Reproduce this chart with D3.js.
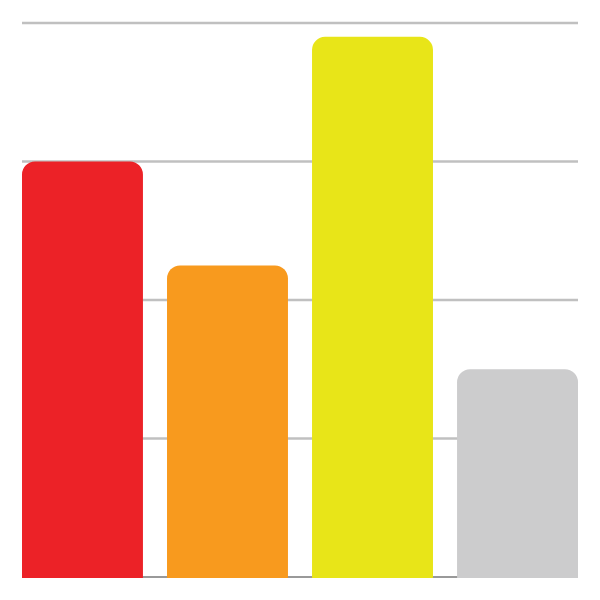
<!DOCTYPE html>
<html>
<head>
<meta charset="utf-8">
<script src="https://cdn.jsdelivr.net/npm/d3@7"></script>
<style>
  body { margin: 0; background: #fff; }
</style>
</head>
<body>
<div id="chart-area"></div>
<script>
// data
const categories = ["A", "B", "C", "D"];
const values = [3.0, 2.25, 3.9, 1.5];
const barColors = ["#ec2227", "#f89a1e", "#e8e518", "#cccccd"];
const gridTicks = [1, 2, 3, 4];

const width = 600, height = 600;
const margin = { left: 22, right: 22, top: 23, bottom: 23 };
const radius = 13;

const svg = d3.select("#chart-area")
  .append("svg")
  .attr("width", width)
  .attr("height", height);

const x = d3.scaleBand()
  .domain(categories)
  .range([margin.left, width - margin.right])
  .paddingInner(0.166)
  .paddingOuter(0);

const y = d3.scaleLinear()
  .domain([0, 4])
  .range([height - margin.bottom, margin.top]);

// grid lines
svg.append("g")
  .selectAll("line")
  .data(gridTicks)
  .enter()
  .append("line")
  .attr("x1", margin.left)
  .attr("x2", width - margin.right)
  .attr("y1", (d) => y(d))
  .attr("y2", (d) => y(d))
  .attr("stroke", "#c0c0c0")
  .attr("stroke-width", 2.4);

// baseline
svg.append("line")
  .attr("x1", margin.left)
  .attr("x2", width - margin.right)
  .attr("y1", y(0))
  .attr("y2", y(0))
  .attr("stroke", "#777")
  .attr("stroke-width", 1.5);

// bars, top corners rounded
const barPath = (d, i) => {
  const x0 = x(categories[i]), x1 = x0 + x.bandwidth();
  const yt = y(d), yb = y(0) + 1;
  const r = radius;
  return `M${x0},${yb} L${x0},${yt + r} A${r},${r} 0 0 1 ${x0 + r},${yt}` +
    ` L${x1 - r},${yt} A${r},${r} 0 0 1 ${x1},${yt + r} L${x1},${yb} Z`;
};

svg.append("g")
  .selectAll("path")
  .data(values)
  .enter()
  .append("path")
  .attr("d", barPath)
  .attr("fill", (d, i) => barColors[i]);
</script>
</body>
</html>
